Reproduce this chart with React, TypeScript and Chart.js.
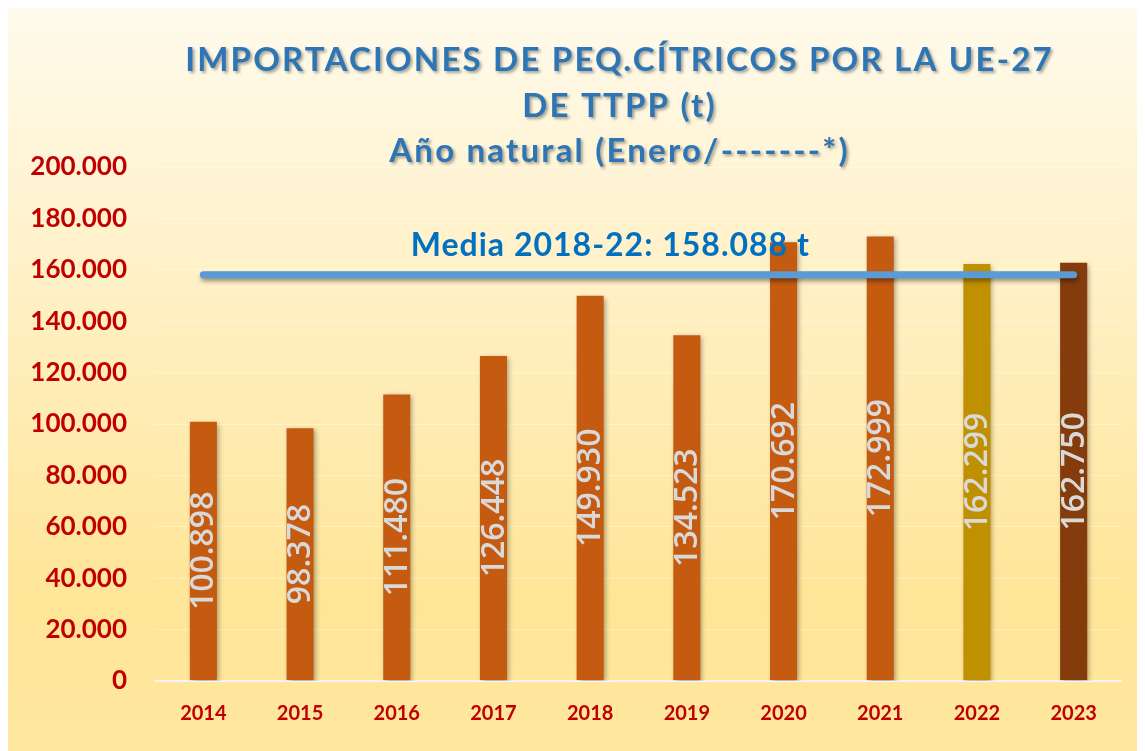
import React, { useEffect, useRef } from "react";
import { Chart, registerables } from "chart.js";

Chart.register(...registerables);

const categories = ["2014", "2015", "2016", "2017", "2018", "2019", "2020", "2021", "2022", "2023"];
const importValues = [100898, 98378, 111480, 126448, 149930, 134523, 170692, 172999, 162299, 162750];
const barColors = ["#C55A11", "#C55A11", "#C55A11", "#C55A11", "#C55A11", "#C55A11", "#C55A11", "#C55A11", "#BF9000", "#843C0C"];
const meanValue = 158088;
const meanLabel = "Media 2018-22: 158.088 t";
const titleLines = ["IMPORTACIONES DE PEQ.CÍTRICOS POR LA UE-27", "DE TTPP (t)", "Año natural (Enero/-------*)"];
const yTickValues = [0, 20000, 40000, 60000, 80000, 100000, 120000, 140000, 160000, 180000, 200000];

const FONT = "Lato";

function fmt(v: number): string {
  return Math.round(v).toString().replace(/\B(?=(\d{3})+(?!\d))/g, ".");
}

const bgPlugin = {
  id: "bgPlugin",
  beforeDraw(chart: any) {
    const { ctx, width, height } = chart;
    const g = ctx.createLinearGradient(0, 0, 0, height);
    g.addColorStop(0, "#FFFAEC");
    g.addColorStop(0.35, "#FFF1C8");
    g.addColorStop(0.8, "#FFE597");
    g.addColorStop(1, "#FFE7A0");
    ctx.save();
    ctx.fillStyle = g;
    ctx.fillRect(0, 0, width, height);
    ctx.restore();
  },
};

const shadowPlugin = {
  id: "shadowPlugin",
  beforeDatasetDraw(chart: any, args: any) {
    const ctx = chart.ctx;
    ctx.save();
    if (args.meta.type === "bar") {
      ctx.shadowColor = "rgba(0,0,0,0.35)";
      ctx.shadowBlur = 5;
      ctx.shadowOffsetX = 2;
      ctx.shadowOffsetY = 2;
    } else {
      ctx.shadowColor = "rgba(0,0,0,0.4)";
      ctx.shadowBlur = 4;
      ctx.shadowOffsetX = 1;
      ctx.shadowOffsetY = 3;
    }
  },
  afterDatasetDraw(chart: any) {
    chart.ctx.restore();
  },
};

const labelPlugin = {
  id: "labelPlugin",
  afterDatasetsDraw(chart: any) {
    const { ctx, chartArea, scales } = chart;
    const meta = chart.getDatasetMeta(0);
    ctx.save();
    ctx.font = `600 32px "Open Sans"`;
    ctx.fillStyle = "#D9D9D9";
    ctx.textAlign = "center";
    ctx.textBaseline = "middle";
    meta.data.forEach((bar: any, i: number) => {
      const cx = bar.x;
      const cy = (bar.y + bar.base) / 2;
      ctx.save();
      ctx.translate(cx + 1, cy);
      ctx.rotate(-Math.PI / 2);
      ctx.fillText(fmt(importValues[i]), 0, 0);
      ctx.restore();
    });
    ctx.restore();

    // mean label
    ctx.save();
    ctx.font = `bold 32px ${FONT}`;
    (ctx as any).letterSpacing = "1px";
    ctx.fillStyle = "#0070C0";
    ctx.textAlign = "left";
    ctx.textBaseline = "alphabetic";
    const x0 = scales.x.getPixelForValue(2) + 14;
    const y0 = scales.y.getPixelForValue(meanValue) - 19;
    ctx.fillText(meanLabel, x0, y0);
    ctx.restore();

    // title
    ctx.save();
    ctx.font = `bold 33px ${FONT}`;
    (ctx as any).letterSpacing = "2.2px";
    ctx.fillStyle = "#2E75B6";
    ctx.textAlign = "center";
    ctx.textBaseline = "alphabetic";
    ctx.shadowColor = "rgba(0,0,0,0.35)";
    ctx.shadowBlur = 3;
    ctx.shadowOffsetX = 2;
    ctx.shadowOffsetY = 2;
    const cx = (chartArea.left + chartArea.right) / 2 - 19;
    const baselines = [64, 109.5, 155];
    titleLines.forEach((t, i) => ctx.fillText(t, cx, baselines[i]));
    ctx.restore();
  },
};

export default function App() {
  const ref = useRef<HTMLCanvasElement | null>(null);
  useEffect(() => {
    if (!ref.current) return;
    const chart = new Chart(ref.current, {
      type: "bar",
      data: {
        labels: categories,
        datasets: [
          {
            type: "bar",
            label: "Importaciones",
            data: importValues,
            backgroundColor: barColors,
            barPercentage: 0.28,
            categoryPercentage: 1,
            order: 2,
          },
          {
            type: "line",
            label: "Media",
            data: categories.map(() => meanValue),
            borderColor: "#5B9BD5",
            borderWidth: 7,
            borderCapStyle: "round",
            pointRadius: 0,
            fill: false,
            order: 1,
          } as any,
        ],
      },
      options: {
        animation: false,
        responsive: true,
        maintainAspectRatio: false,
        layout: { padding: { top: 160, right: 23, left: 0, bottom: 0 } },
        plugins: { legend: { display: false }, tooltip: { enabled: false }, title: { display: false } },
        scales: {
          x: {
            grid: { display: false },
            border: { display: false },
            ticks: {
              color: "#C00000",
              font: { family: FONT, size: 20, weight: "bold" },
              padding: 13,
            },
            afterFit(scale: any) {
              scale.height = 70;
            },
          },
          y: {
            min: 0,
            max: 200000,
            afterBuildTicks(scale: any) {
              scale.ticks = yTickValues.map((v) => ({ value: v }));
            },
            grid: {
              drawTicks: false,
              color: (c: any) => (c.tick && c.tick.value === 0 ? "rgba(245,245,245,0.95)" : "rgba(255,255,255,0.35)"),
              lineWidth: (c: any) => (c.tick && c.tick.value === 0 ? 2 : 1),
            },
            border: { display: false },
            ticks: {
              color: "#C00000",
              font: { family: FONT, size: 26, weight: "bold" },
              padding: 28,
              callback: (v: any) => fmt(Number(v)),
            },
            afterFit(scale: any) {
              scale.width = 148;
            },
          },
        },
      },
      plugins: [bgPlugin, shadowPlugin, labelPlugin],
    } as any);
    return () => chart.destroy();
  }, []);
  return (
    <div style={{ width: 1138, height: 744, margin: "-1px 0 0 -1px", position: "relative" }}>
      <canvas ref={ref} />
    </div>
  );
}
